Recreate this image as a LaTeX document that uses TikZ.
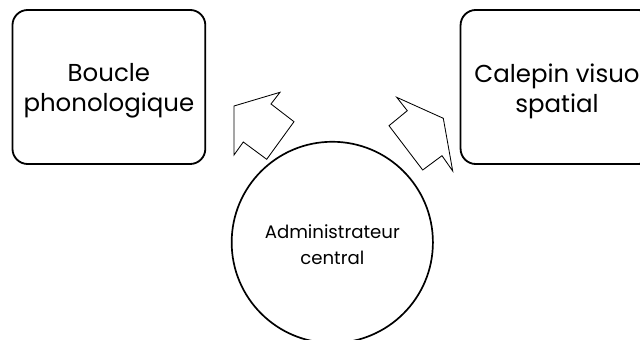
\documentclass[tikz,border=0pt]{standalone}
\usepackage{fontspec}
\setmainfont{Poppins}
\usetikzlibrary{calc}

\tikzset{
	boite/.style={draw, line width=1.3pt, rounded corners=0.38cm, minimum width=4.82cm, minimum height=3.85cm, align=center, font=\fontsize{17.4}{21.5}\selectfont},
	rond/.style={draw, circle, line width=1.2pt, minimum size=5.03cm, inner sep=0pt, align=center, font=\fontsize{12.9}{18.5}\selectfont},
	fleche/.style={draw, line width=0.6pt, line join=miter, fill=white}
}

\begin{document}
\begin{tikzpicture}[x=0.025cm, y=-0.025cm]
			%%%%% START %%%%%
			
			\path[use as bounding box, clip] (0, 0) rectangle (640, 340);
			
			\node[boite] (boucle) at (108.9, 87) {};
			\node[boite, draw=none] (boucletxt) at ($(boucle)+(0, 4)$) {Boucle\\phonologique};
			\node[boite] (calepin) at (557, 87) {};
			\node[boite, draw=none] (calepintxt) at ($(calepin)+(0, 4)$) {Calepin visuo\\spatial};
			
			\node[rond] (admin) at (332.3, 242.4) {};
			\node[rond, draw=none] (admintxt) at ($(admin)+(0, 2.6)$) {Administrateur\\central};
			
			\draw[fleche] (234, 106) -- (280, 92.3) -- (271, 104) -- (294, 121.7) -- (266.7, 159.3) -- (243.3, 142) -- (234, 155) -- cycle;
			\draw[fleche] (396.7, 97.3) -- (443.3, 118.3) -- (452.7, 171) -- (442, 155.7) -- (422.7, 170) -- (389, 125.7) -- (407.3, 110.7) -- cycle;
			
			%%%%% END %%%%%
		\end{tikzpicture}
\end{document}
